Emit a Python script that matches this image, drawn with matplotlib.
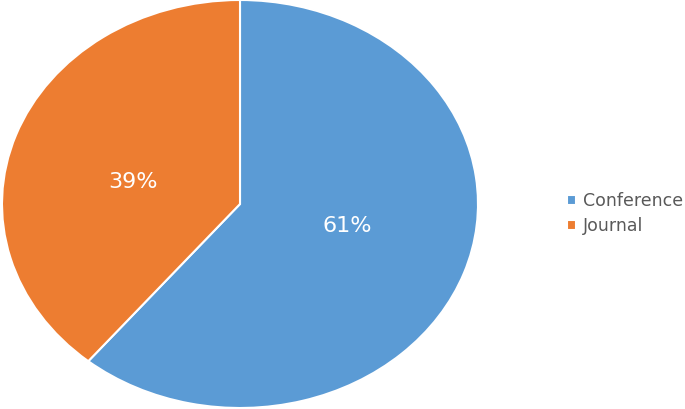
import matplotlib.pyplot as plt

# Publication types share
labels = ["Conference", "Journal"]
shares = [61, 39]
colors = ["#5B9BD5", "#ED7D31"]

fig = plt.figure(figsize=(6.85, 4.09), dpi=100)
ax = fig.add_axes([2 / 685, 1 / 409, 476 / 685, 408 / 409])

wedges, texts, autotexts = ax.pie(
    shares, colors=colors, startangle=90, counterclock=False,
    autopct='%1.0f%%', pctdistance=0.48,
    wedgeprops=dict(edgecolor='white', linewidth=1.5),
    textprops=dict(color='white', fontsize=16))
ax.set_aspect('auto')
ax.set_xlim(-1, 1)
ax.set_ylim(-1, 1)

# labels sit a little closer to the horizontal in the original
for t in autotexts:
    x, y = t.get_position()
    t.set_position((x, y * 0.65))

fig.legend(wedges, labels, loc='center left', bbox_to_anchor=(0.828, 0.478),
           frameon=False, fontsize=12.5, handlelength=0.52, handleheight=0.52,
           handletextpad=0.4, labelspacing=0.42, borderpad=0, borderaxespad=0,
           labelcolor='#595959')

fig.savefig("out.png", dpi=100)
